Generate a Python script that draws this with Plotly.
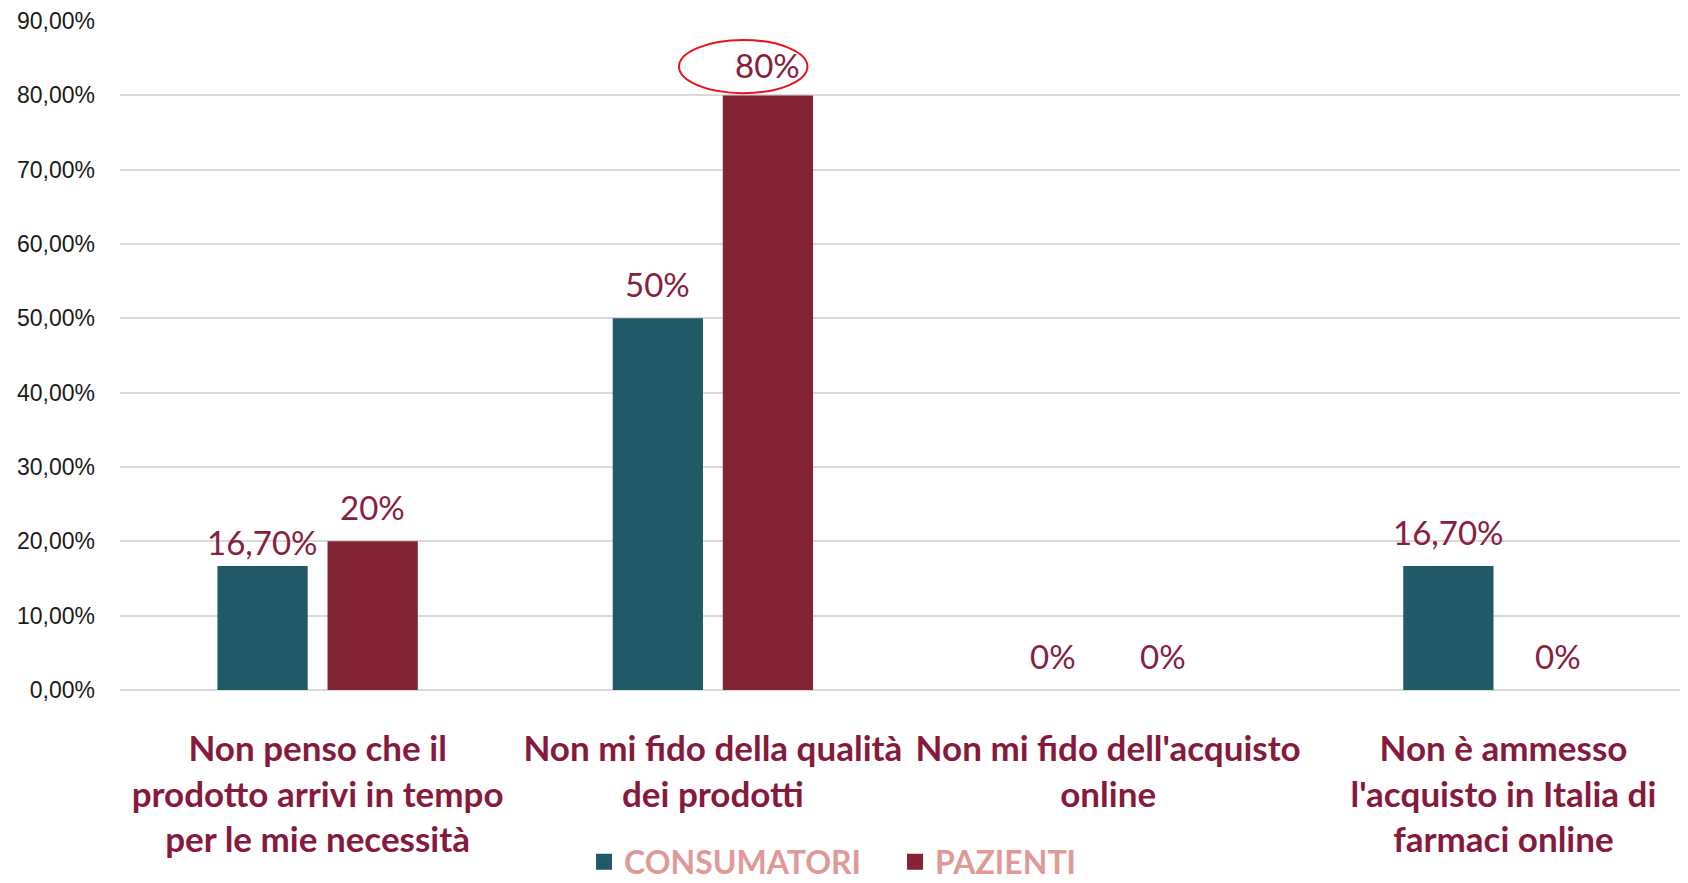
import plotly.graph_objects as go

categories = [
    "Non penso che il<br>prodotto arrivi in tempo<br>per le mie necessità",
    "Non mi fido della qualità<br>dei prodotti",
    "Non mi fido dell'acquisto<br>online",
    "Non è ammesso<br>l'acquisto in Italia di<br>farmaci online",
]
series_names = ["CONSUMATORI", "PAZIENTI"]
consumatori = [0.167, 0.50, 0.0, 0.167]
pazienti = [0.20, 0.80, 0.0, 0.0]
y_ticks = [0.0, 0.1, 0.2, 0.3, 0.4, 0.5, 0.6, 0.7, 0.8, 0.9]

colors = ["#225968", "#822433"]
label_color = "#87203D"
cat_color = "#861A3C"
legend_text_color = "#DF9A98"

BARGAP = 0.443
BARGROUPGAP = 0.18
# small manual nudges (px) of individual data labels, as in the original
label_nudge = {(0, 0): -10, (1, 1): -4}

def fmt(v):
    p = v * 100
    if abs(p - round(p)) < 1e-9:
        return f"{int(round(p))}%"
    return f"{p:.2f}%".replace(".", ",")

x_idx = list(range(len(categories)))

fig = go.Figure()
for name, vals, col in zip(series_names, [consumatori, pazienti], colors):
    fig.add_trace(go.Bar(
        x=x_idx, y=vals, name=name, showlegend=False,
        marker=dict(color=col, line=dict(width=0)),
    ))
# legend entries with large square swatches
for name, col in zip(series_names, colors):
    fig.add_trace(go.Scatter(
        x=[None], y=[None], mode="markers", name=name,
        marker=dict(symbol="square", size=20, color=col),
    ))

slot = (1 - BARGAP) / 2
annotations = []
for s, vals in enumerate([consumatori, pazienti]):
    off = (s - 0.5) * slot
    for i, v in enumerate(vals):
        annotations.append(dict(
            x=i + off, y=v, xref="x", yref="y", text=fmt(v), showarrow=False,
            yanchor="bottom", yshift=12 + label_nudge.get((i, s), 0),
            font=dict(family="Lato, Carlito, sans-serif", size=33, color=label_color),
        ))

# red highlight ellipse around the 80% label
hi_cat = 1
hi_val = pazienti[hi_cat]
fig.add_shape(
    type="circle", xref="x", yref="y",
    x0=hi_cat + 0.5 * slot - 0.225, x1=hi_cat + 0.5 * slot + 0.10,
    y0=hi_val + 0.003, y1=hi_val + 0.0745,
    line=dict(color="#E8141B", width=2),
)

fig.update_layout(
    width=1680, height=875,
    margin=dict(l=112, r=0, t=13, b=193, autoexpand=False),
    paper_bgcolor="white", plot_bgcolor="white",
    barmode="group", bargap=BARGAP, bargroupgap=BARGROUPGAP,
    separators=",.",
    annotations=annotations,
    legend=dict(
        orientation="h", xref="container", yref="container",
        x=0.528, xanchor="center", y=0.024, yanchor="middle",
        font=dict(family="Lato, Carlito, sans-serif", size=32, color=legend_text_color, weight="bold"),
        itemsizing="trace", traceorder="normal", itemwidth=30,
        entrywidth=266, tracegroupgap=0, bgcolor="rgba(0,0,0,0)",
    ),
    xaxis=dict(
        tickmode="array", tickvals=x_idx, ticktext=categories,
        range=[-0.5, 3.467], automargin=False,
        showgrid=False, showline=False, zeroline=False, ticks="",
        ticklabelstandoff=35,
        tickfont=dict(family="Lato, Carlito, sans-serif", size=35, color=cat_color, weight="bold"),
    ),
    yaxis=dict(
        range=[0, 0.9001], tickmode="array", tickvals=y_ticks, tickformat=".2%",
        automargin=False,
        showgrid=True, gridcolor="#D9D9D9", gridwidth=2,
        zeroline=True, zerolinecolor="#D9D9D9", zerolinewidth=2,
        showline=False, ticks="", ticklabelstandoff=24,
        tickfont=dict(family="Liberation Sans, Arial, sans-serif", size=23, color="#1A1A1A"),
    ),
)

fig.write_html("out.html")
